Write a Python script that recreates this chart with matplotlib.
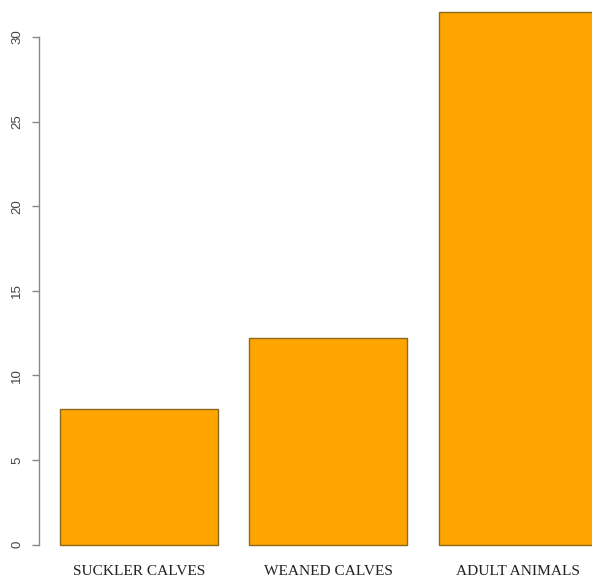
import matplotlib
matplotlib.use('Agg')
from matplotlib import pyplot as plt

categories = ['SUCKLER CALVES', 'WEANED CALVES', 'ADULT ANIMALS']
values = [8.0, 12.2, 31.5]
yticks = [0, 5, 10, 15, 20, 25, 30]

W, H = 592, 584
fig = plt.figure(figsize=(W / 100, H / 100), dpi=100)

# plot region runs past the right and top edges of the canvas
left, right = 38.5, 618
bottom, top = 566, -9.7
ax = fig.add_axes([left / W, (H - bottom) / H, (right - left) / W, (bottom - top) / H])

# bars of width 1 with a 0.2 gap, like a default R barplot
xs = [0.2 + i * 1.2 + 0.5 for i in range(len(values))]
ax.bar(xs, values, width=1.0, color='#FFA500', edgecolor='#8a6a1e', linewidth=1.0)

ax.set_xlim(0.2 - 0.136, 3.6 + 0.136)
ax.set_ylim(-1.26, 32.76)

for s in ['top', 'right', 'bottom']:
    ax.spines[s].set_visible(False)
ax.spines['left'].set_bounds(0, 30)
ax.spines['left'].set_color('#888888')
ax.spines['left'].set_linewidth(1.0)

ax.set_yticks(yticks)
ax.set_yticklabels([str(t) for t in yticks], rotation=90, va='center',
                   fontsize=9.5, color='#444444', family='Liberation Sans')
ax.tick_params(axis='y', length=5, width=1.0, color='#888888', pad=6)

ax.set_xticks(xs)
ax.set_xticklabels(categories, fontsize=11.1, family='Liberation Serif', color='#222222')
ax.tick_params(axis='x', length=0, pad=-1)

fig.savefig('out.png', dpi=100)
